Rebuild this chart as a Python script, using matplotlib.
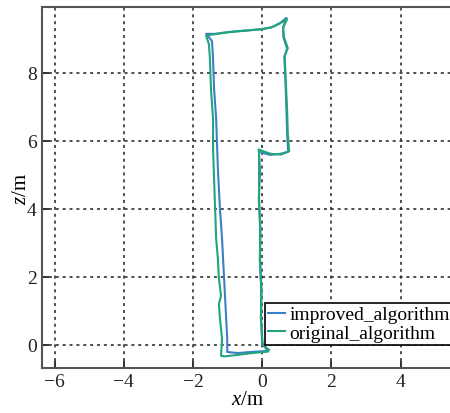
import matplotlib
matplotlib.use("Agg")
import matplotlib.pyplot as plt

# trajectory points (metres)
improved_x = [0.12, -0.35, -0.70, -1.01, -1.01, -1.04, -1.07, -1.10, -1.13, -1.16,
              -1.22, -1.25, -1.28, -1.30, -1.33, -1.39, -1.42, -1.45, -1.57, -1.62,
              -1.36, -0.93, -0.49, 0.00, 0.29, 0.52, 0.70, 0.61, 0.61, 0.72,
              0.64, 0.67, 0.70, 0.72, 0.75, 0.52, 0.23, 0.00, -0.09, -0.09,
              -0.09, -0.06, -0.06, -0.03, -0.03, 0.00, 0.12, 0.17]
improved_z = [-0.18, -0.21, -0.24, -0.21, 0.18, 0.76, 1.35, 1.94, 2.53, 3.12,
              4.00, 4.59, 5.18, 5.76, 6.65, 7.53, 8.41, 8.94, 9.09, 9.15,
              9.15, 9.21, 9.24, 9.29, 9.35, 9.47, 9.62, 9.35, 9.06, 8.71,
              8.47, 7.82, 6.94, 6.21, 5.68, 5.62, 5.59, 5.65, 5.71, 5.18,
              4.29, 3.41, 2.53, 1.65, 0.76, 0.03, -0.12, -0.18]

original_x = [0.15, -0.30, -0.75, -1.10, -1.19, -1.16, -1.22, -1.25, -1.19, -1.25,
              -1.28, -1.33, -1.36, -1.39, -1.42, -1.42, -1.48, -1.51, -1.54, -1.62,
              -1.50, -1.10, -0.60, -0.10, 0.25, 0.50, 0.72, 0.60, 0.63, 0.74,
              0.65, 0.68, 0.72, 0.74, 0.78, 0.55, 0.25, 0.02, -0.10, -0.06,
              -0.10, -0.05, -0.07, -0.02, -0.04, 0.01, 0.14, 0.20]
original_z = [-0.20, -0.24, -0.30, -0.34, -0.32, 0.18, 0.76, 1.20, 1.45, 1.94,
              2.53, 3.12, 4.00, 4.88, 5.76, 6.65, 7.53, 8.41, 8.85, 9.09,
              9.12, 9.18, 9.24, 9.28, 9.33, 9.45, 9.58, 9.33, 9.05, 8.73,
              8.50, 7.80, 6.90, 6.20, 5.70, 5.60, 5.62, 5.70, 5.75, 5.10,
              4.30, 3.40, 2.50, 1.60, 0.80, 0.05, -0.10, -0.15]

labels = ["improved_algorithm", "original_algorithm"]
colors = ["#3b80c6", "#20a67a"]

plt.rcParams["font.family"] = ["Liberation Serif", "DejaVu Serif"]
plt.rcParams["mathtext.fontset"] = "custom"
plt.rcParams["mathtext.it"] = "Liberation Serif:italic"
plt.rcParams["mathtext.rm"] = "Liberation Serif"

fig = plt.figure(figsize=(4.5, 4.14), dpi=100)
ax = fig.add_axes([0.0927, 0.1087, 0.913, 0.8720])

ax.plot(improved_x, improved_z, color=colors[0], lw=1.5, label=labels[0])
ax.plot(original_x, original_z, color=colors[1], lw=1.5, label=labels[1])

ax.set_xlim(-6.37, 5.5)
ax.set_ylim(-0.68, 9.94)
ax.set_xticks([-6, -4, -2, 0, 2, 4])
ax.set_yticks([0, 2, 4, 6, 8])
ax.set_xticklabels(["\u22126", "\u22124", "\u22122", "0", "2", "4"])
ax.grid(True, color="#222222", linestyle=(0, (2, 2.5)), linewidth=1.1)
ax.tick_params(direction="in", length=5, width=1.4, labelsize=14, colors="#333333")
ax.tick_params(labelcolor="#222222")
for s in ax.spines.values():
    s.set_color("#555555")
    s.set_linewidth(1.5)

ax.set_xlabel("$x$/m", fontsize=15, labelpad=0)
ax.set_ylabel("$z$/m", fontsize=15, labelpad=-3)

leg = ax.legend(loc="lower right", bbox_to_anchor=(1.0, 0.064), borderaxespad=0,
                fontsize=14, fancybox=False, framealpha=1, edgecolor="black",
                handlelength=0.9, handletextpad=0.2, borderpad=0.15, labelspacing=0.05)
leg.get_frame().set_linewidth(1.2)

fig.savefig("out.png", dpi=100)
